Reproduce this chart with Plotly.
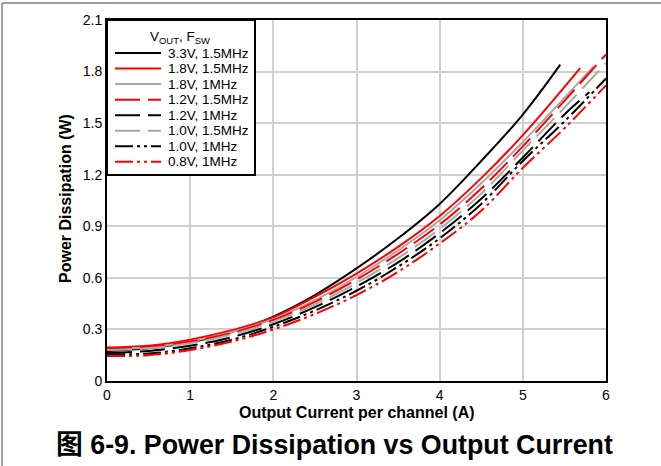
import plotly.graph_objects as go

# ---- data ----
x_33_15 = [0, 0.5, 1, 1.5, 2, 2.5, 3, 3.5, 4, 4.5, 5, 5.45]
p_33_15 = [0.175, 0.19, 0.225, 0.285, 0.375, 0.50, 0.655, 0.83, 1.03, 1.28, 1.55, 1.84]

x_18_15 = [0, 0.5, 1, 1.5, 2, 2.5, 3, 3.5, 4, 4.5, 5, 5.69]
p_18_15 = [0.195, 0.205, 0.24, 0.295, 0.37, 0.49, 0.625, 0.78, 0.96, 1.18, 1.43, 1.82]

x_18_10 = [0, 0.5, 1, 1.5, 2, 2.5, 3, 3.5, 4, 4.5, 5, 5.85]
p_18_10 = [0.185, 0.195, 0.23, 0.285, 0.36, 0.47, 0.605, 0.76, 0.935, 1.15, 1.39, 1.83]

x_12_15 = [0, 0.5, 1, 1.5, 2, 2.5, 3, 3.5, 4, 4.5, 5, 5.5, 6]
p_12_15 = [0.19, 0.20, 0.23, 0.28, 0.355, 0.46, 0.59, 0.74, 0.91, 1.12, 1.365, 1.63, 1.90]

x_12_10 = [0, 0.5, 1, 1.5, 2, 2.5, 3, 3.5, 4, 4.5, 5, 5.5, 5.8]
p_12_10 = [0.165, 0.175, 0.205, 0.255, 0.33, 0.43, 0.55, 0.69, 0.86, 1.06, 1.30, 1.55, 1.68]

x_10_15 = [0, 0.5, 1, 1.5, 2, 2.5, 3, 3.5, 4, 4.5, 5, 5.5, 6]
p_10_15 = [0.18, 0.19, 0.22, 0.27, 0.345, 0.445, 0.57, 0.715, 0.885, 1.09, 1.34, 1.59, 1.85]

x_10_10 = [0, 0.5, 1, 1.5, 2, 2.5, 3, 3.5, 4, 4.5, 5, 5.5, 6]
p_10_10 = [0.155, 0.16, 0.19, 0.24, 0.315, 0.41, 0.525, 0.665, 0.83, 1.03, 1.28, 1.51, 1.76]

x_08_10 = [0, 0.5, 1, 1.5, 2, 2.5, 3, 3.5, 4, 4.5, 5, 5.5, 6]
p_08_10 = [0.145, 0.15, 0.18, 0.23, 0.30, 0.39, 0.50, 0.635, 0.80, 0.99, 1.24, 1.47, 1.72]

series_names = ["3.3V, 1.5MHz", "1.8V, 1.5MHz", "1.8V, 1MHz", "1.2V, 1.5MHz",
                "1.2V, 1MHz", "1.0V, 1.5MHz", "1.0V, 1MHz", "0.8V, 1MHz"]

x_ticks = [0, 1, 2, 3, 4, 5, 6]
y_ticks = [0, 0.3, 0.6, 0.9, 1.2, 1.5, 1.8, 2.1]
y_ticktext = ["0", "0.3", "0.6", "0.9", "1.2", "1.5", "1.8", "2.1"]

# ---- styles ----
RED = "#ff0000"
GRAY = "#a8a8a8"
BLACK = "#000000"
DASH = "25px,8px"
DDOT = "18px,4px,3px,4px,3px,4px"

series = [
    (x_33_15, p_33_15, BLACK, "solid"),
    (x_18_15, p_18_15, RED, "solid"),
    (x_18_10, p_18_10, GRAY, "solid"),
    (x_12_15, p_12_15, RED, DASH),
    (x_12_10, p_12_10, BLACK, DASH),
    (x_10_15, p_10_15, GRAY, DASH),
    (x_10_10, p_10_10, BLACK, DDOT),
    (x_08_10, p_08_10, RED, DDOT),
]

FONT = "Arial, Liberation Sans, Noto Sans CJK SC, sans-serif"

# plot area in pixels (for paper-coordinate conversion)
L, R, T, B = 107, 606, 20, 381
W_PLOT, H_PLOT = R - L, B - T


def px_x(px):
    return (px - L) / W_PLOT


def px_y(py):
    return (B - py) / H_PLOT


fig = go.Figure()
for (xs, ys, c, d), name in zip(series, series_names):
    fig.add_trace(go.Scatter(x=xs, y=ys, mode="lines", name=name, showlegend=False,
                             line=dict(color=c, width=2, dash=d, shape="spline")))

fig.update_layout(
    width=661, height=466,
    margin=dict(l=L, r=661 - R, t=T, b=466 - B),
    paper_bgcolor="white", plot_bgcolor="white",
    font=dict(family=FONT, size=14, color="black"),
    showlegend=False,
    xaxis=dict(range=[0, 6], tickvals=x_ticks, ticktext=[str(v) for v in x_ticks],
               showgrid=True, gridcolor="#d0d0d0", gridwidth=2,
               showline=True, linecolor="black", linewidth=2, mirror=True,
               ticks="", zeroline=False, tickfont=dict(size=14), automargin=False),
    yaxis=dict(range=[0, 2.1], tickvals=y_ticks, ticktext=y_ticktext,
               showgrid=True, gridcolor="#d0d0d0", gridwidth=2,
               showline=True, linecolor="black", linewidth=2, mirror=True,
               ticks="", zeroline=False, tickfont=dict(size=14), automargin=False),
)

# axis titles
fig.add_annotation(text="<b>Output Current per channel (A)</b>", xref="paper", yref="paper",
                   x=0.5, y=px_y(412), xanchor="center", yanchor="middle",
                   showarrow=False, font=dict(size=16, family=FONT))
fig.add_annotation(text="<b>Power Dissipation (W)</b>", xref="paper", yref="paper",
                   x=px_x(65), y=px_y(199), xanchor="center", yanchor="middle",
                   textangle=-90, showarrow=False, font=dict(size=16, family=FONT))

# legend (drawn manually to match the compact reference layout)
fig.add_shape(type="rect", xref="paper", yref="paper",
              x0=px_x(107), x1=px_x(255), y0=px_y(175), y1=px_y(20),
              fillcolor="white", line=dict(color="black", width=2), layer="above")
fig.add_annotation(text="V<sub>OUT</sub>, F<sub>SW</sub>", xref="paper", yref="paper",
                   x=px_x(180), y=px_y(38), xanchor="center", yanchor="middle",
                   showarrow=False, font=dict(size=13.5, family=FONT))
for i, ((xs, ys, c, d), name) in enumerate(zip(series, series_names)):
    yy = 53 + i * 15.55
    fig.add_shape(type="line", xref="paper", yref="paper",
                  x0=px_x(115), x1=px_x(161), y0=px_y(yy), y1=px_y(yy),
                  line=dict(color=c, width=2, dash=d), layer="above")
    fig.add_annotation(text=name, xref="paper", yref="paper",
                       x=px_x(166), y=px_y(yy), xanchor="left", yanchor="middle",
                       showarrow=False, font=dict(size=13.5, family=FONT))

# outer frame (left and top gray lines)
fig.add_shape(type="line", xref="paper", yref="paper", x0=px_x(2), x1=px_x(2),
              y0=px_y(3), y1=px_y(470), line=dict(color="#808080", width=1.5))
fig.add_shape(type="line", xref="paper", yref="paper", x0=px_x(2), x1=px_x(665),
              y0=px_y(3), y1=px_y(3), line=dict(color="#808080", width=1.5))

# caption
fig.add_annotation(text="<b>图 6-9. Power Dissipation vs Output Current</b>",
                   xref="paper", yref="paper", x=px_x(334), y=px_y(445),
                   xanchor="center", yanchor="middle", showarrow=False,
                   font=dict(size=26.8, family=FONT, color="black"))

fig.write_html("out.html",
               config={"displayModeBar": False},
               post_script="document.body.style.margin='0px';"
                           "document.documentElement.style.margin='0px';")
